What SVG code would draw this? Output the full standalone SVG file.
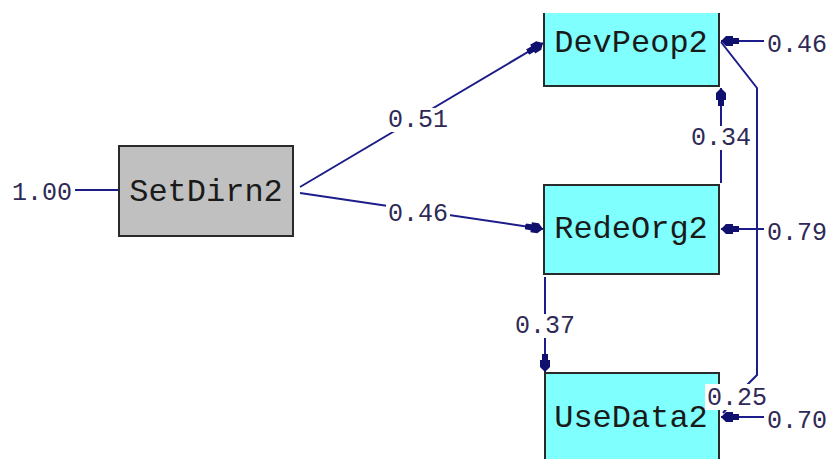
<svg xmlns="http://www.w3.org/2000/svg" width="826" height="459" viewBox="0 0 826 459">
<style>
.lbl{font-family:"Liberation Mono","Courier New",monospace;font-size:25px;fill:#2e2a55;text-anchor:middle}
.node{font-family:"Liberation Mono","Courier New",monospace;font-size:32px;fill:#1a1a1a;text-anchor:middle}
.ln{stroke:#1c1c8a;stroke-width:2;fill:none}
.bg{fill:#ffffff}
.cyan{fill:#80ffff}
.bd{stroke:#2a2a2a;stroke-width:2;fill:none}
</style>
<defs>
<marker id="ah" markerUnits="userSpaceOnUse" viewBox="0 0 18 12" refX="18" refY="6" markerWidth="18" markerHeight="12" orient="auto">
<path d="M18,6 L13,1 L6,1 L6,3 L0,3 L0,9 L6,9 L6,11 L13,11 Z" fill="#10106e"/>
</marker>
</defs>
<rect width="826" height="459" fill="#ffffff"/>
<g id="SetDirn2">
<rect x="119" y="146" width="174" height="90" fill="#c0c0c0" stroke="#2a2a2a" stroke-width="2"/>
<text class="node" x="206" y="201">SetDirn2</text>
</g>
<g id="DevPeop2">
<rect class="cyan" x="544" y="13" width="175" height="73"/>
<path class="bd" d="M544,13 L544,86 L719,86 L719,13"/>
<text class="node" x="631" y="52">DevPeop2</text>
</g>
<g id="RedeOrg2">
<rect class="cyan" x="544" y="185" width="175" height="89" stroke="#2a2a2a" stroke-width="2"/>
<text class="node" x="631" y="238">RedeOrg2</text>
</g>
<g id="UseData2">
<rect class="cyan" x="545" y="373" width="174" height="90"/>
<path class="bd" d="M545,461 L545,373 L719,373 L719,461"/>
<text class="node" x="631" y="427">UseData2</text>
</g>
<g id="connectors">
<line class="ln" x1="75" y1="190" x2="118" y2="190"/>
<line class="ln" x1="300" y1="187" x2="543" y2="43" marker-end="url(#ah)"/>
<line class="ln" x1="300" y1="193" x2="543" y2="229" marker-end="url(#ah)"/>
<line class="ln" x1="721" y1="183" x2="721" y2="88" marker-end="url(#ah)"/>
<line class="ln" x1="545" y1="277" x2="545" y2="372" marker-end="url(#ah)"/>
<line class="ln" x1="764" y1="41" x2="721" y2="41" marker-end="url(#ah)"/>
<line class="ln" x1="764" y1="229" x2="721" y2="229" marker-end="url(#ah)"/>
<line class="ln" x1="764" y1="417" x2="721" y2="417" marker-end="url(#ah)"/>
<path class="ln" d="M721,42 L757,88 L757,375 L748,384 L723,413"/>
<rect class="bg" x="388" y="108" width="60" height="24"/>
<text class="lbl" x="418" y="127">0.51</text>
<rect class="bg" x="386" y="202" width="64" height="24"/>
<text class="lbl" x="418" y="221">0.46</text>
<rect class="bg" x="690" y="126" width="62" height="24"/>
<text class="lbl" x="721" y="145">0.34</text>
<rect class="bg" x="514" y="314" width="62" height="24"/>
<text class="lbl" x="545" y="333">0.37</text>
<rect class="bg" x="705" y="384" width="66" height="26"/>
<text class="lbl" x="737" y="405">0.25</text>
<text class="lbl" x="42" y="200">1.00</text>
<text class="lbl" x="797" y="52">0.46</text>
<text class="lbl" x="797" y="240">0.79</text>
<text class="lbl" x="797" y="428">0.70</text>
</g>
</svg>
